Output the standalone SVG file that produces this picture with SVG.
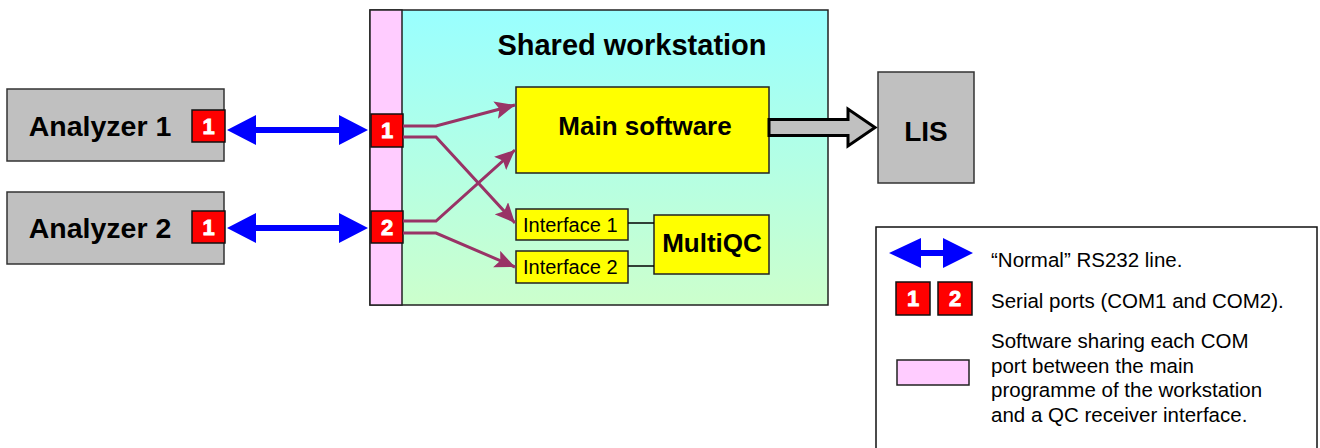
<svg xmlns="http://www.w3.org/2000/svg" width="1320" height="448" viewBox="0 0 1320 448">
<defs>
<linearGradient id="ws" x1="0" y1="0" x2="0" y2="1">
<stop offset="0" stop-color="#99ffff"/>
<stop offset="1" stop-color="#ccffcc"/>
</linearGradient>
<marker id="pa" viewBox="0 0 20 18" refX="20" refY="9" markerWidth="20" markerHeight="18" markerUnits="userSpaceOnUse" orient="auto">
<path d="M0,0 L20,9 L0,18 L4,9 Z" fill="#993366"/>
</marker>
</defs>
<style>
text{font-family:"Liberation Sans",Arial,sans-serif;}
.gray{fill:#c0c0c0;stroke:#333;stroke-width:1.5;}
.yel{fill:#ffff00;stroke:#222;stroke-width:1.5;}
.port{fill:#ff0000;stroke:#111;stroke-width:1.5;}
.pt{fill:#fff;stroke:#fff;stroke-width:0.8;font-weight:bold;font-size:22px;text-anchor:middle;}
.big{font-weight:bold;font-size:28px;text-anchor:middle;fill:#000;}
.pl{fill:none;stroke:#993366;stroke-width:3;marker-end:url(#pa);}
.blue{fill:#0000ff;}
.leg{font-size:20.5px;fill:#000;}
</style>
<rect width="1320" height="448" fill="#fff"/>

<g id="workstation">
<rect x="370" y="10" width="458" height="295" fill="url(#ws)" stroke="#222" stroke-width="1.5"/>
<rect x="370" y="10" width="32" height="295" fill="#ffccff" stroke="#222" stroke-width="1.5"/>
<text x="632" y="55" class="big" style="font-size:29px">Shared workstation</text>
</g>

<g id="analyzer1">
<rect x="7" y="89" width="217" height="72" class="gray"/>
<text x="100" y="136" class="big" style="font-size:28.5px">Analyzer 1</text>
<rect x="192" y="110" width="33" height="32" class="port"/>
<text x="208.5" y="134" class="pt">1</text>
</g>

<g id="analyzer2">
<rect x="7" y="192" width="217" height="72" class="gray"/>
<text x="100" y="238" class="big" style="font-size:28.5px">Analyzer 2</text>
<rect x="192" y="211" width="33" height="32" class="port"/>
<text x="208.5" y="235" class="pt">1</text>
</g>

<g id="wsport1">
<rect x="371" y="114" width="32" height="33" class="port"/>
<text x="387" y="138" class="pt">1</text>
</g>
<g id="wsport2">
<rect x="371" y="211" width="32" height="32" class="port"/>
<text x="387" y="235" class="pt">2</text>
</g>

<g id="mainsoftware">
<rect x="516" y="87" width="253" height="86" class="yel"/>
<text x="645" y="135" class="big" style="font-size:26px">Main software</text>
</g>

<g id="interface1">
<rect x="516" y="209" width="112" height="31" class="yel"/>
<text x="523" y="232" style="font-size:20px">Interface 1</text>
</g>
<g id="interface2">
<rect x="516" y="251" width="112" height="32" class="yel"/>
<text x="523" y="274" style="font-size:20px">Interface 2</text>
</g>

<g id="multiqc">
<rect x="654" y="215" width="115" height="59" class="yel"/>
<text x="712" y="252" class="big" style="font-size:26px">MultiQC</text>
</g>

<g id="lis">
<rect x="878" y="72" width="96" height="111" class="gray"/>
<text x="926" y="141" class="big" style="font-size:28px">LIS</text>
</g>

<g id="connectors">
<path d="M256,127 H339 V115 L368,130 L339,145 V133 H256 V145 L227,130 L256,115 Z" class="blue"/>
<path d="M256,225 H339 V213 L368,228 L339,243 V231 H256 V243 L227,228 L256,213 Z" class="blue"/>
<path d="M403,126 H436 L515,105" class="pl"/>
<path d="M403,137 H436 L515,223" class="pl"/>
<path d="M403,221 H436 L515,150" class="pl"/>
<path d="M403,233 H436 L515,267" class="pl"/>
<line x1="628" y1="223" x2="654" y2="223" stroke="#000" stroke-width="1.5"/>
<line x1="628" y1="266" x2="654" y2="266" stroke="#000" stroke-width="1.5"/>
<path d="M769,119.5 H848 V109 L875,127.5 L848,146 V135.5 H769 Z" fill="#c0c0c0" stroke="#000" stroke-width="3" stroke-linejoin="miter"/>
</g>

<g id="legend">
<rect x="876" y="227" width="441" height="240" fill="#fff" stroke="#111" stroke-width="1.5"/>
<path d="M921,250 H943 V238 L973,253 L943,268 V256 H921 V268 L889,253 L921,238 Z" class="blue"/>
<text x="991" y="267" class="leg">“Normal” RS232 line.</text>
<rect x="896" y="282" width="34" height="33" class="port"/>
<text x="913" y="306" class="pt">1</text>
<rect x="938" y="282" width="34" height="33" class="port"/>
<text x="955" y="306" class="pt">2</text>
<text x="991" y="308" class="leg">Serial ports (COM1 and COM2).</text>
<rect x="897" y="360" width="72" height="25" fill="#ffccff" stroke="#222" stroke-width="1.5"/>
<text class="leg"><tspan x="991" y="348">Software sharing each COM</tspan><tspan x="991" y="373">port between the main</tspan><tspan x="991" y="397">programme of the workstation</tspan><tspan x="991" y="422">and a QC receiver interface.</tspan></text>
</g>
</svg>
